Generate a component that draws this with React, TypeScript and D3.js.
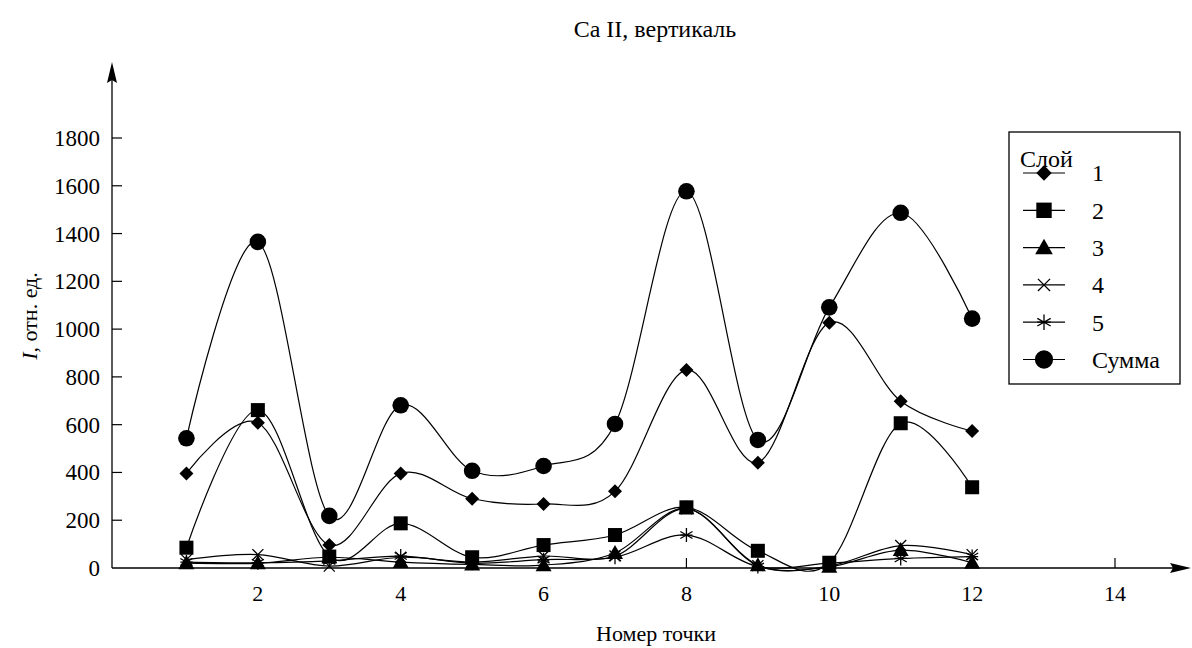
import React, { useEffect, useRef } from 'react';
import * as d3 from 'd3';

// номера точек и значения по слоям (отн. ед.)
const points = [1, 2, 3, 4, 5, 6, 7, 8, 9, 10, 11, 12];
const layer1 = [396, 608, 96, 396, 290, 268, 321, 829, 441, 1027, 698, 573];
const layer2 = [85, 661, 48, 187, 45, 96, 138, 254, 72, 22, 606, 338];
const layer3 = [20, 20, 45, 25, 15, 12, 63, 250, 12, 5, 75, 22];
const layer4 = [35, 56, 8, 45, 25, 50, 50, 248, 10, 8, 94, 56];
const layer5 = [25, 22, 30, 50, 20, 35, 45, 138, 6, 20, 40, 48];
const total = [543, 1365, 218, 681, 407, 427, 603, 1577, 536, 1091, 1487, 1044];

const yTicks = [0, 200, 400, 600, 800, 1000, 1200, 1400, 1600, 1800];
const xTicks = [2, 4, 6, 8, 10, 12, 14];

type MarkerKind = 'diamond' | 'square' | 'triangle' | 'cross' | 'star' | 'circle';

const seriesList: { label: string; values: number[]; marker: MarkerKind }[] = [
  { label: '1', values: layer1, marker: 'diamond' },
  { label: '2', values: layer2, marker: 'square' },
  { label: '3', values: layer3, marker: 'triangle' },
  { label: '4', values: layer4, marker: 'cross' },
  { label: '5', values: layer5, marker: 'star' },
  { label: 'Сумма', values: total, marker: 'circle' },
];

const FONT = "'Liberation Serif', 'DejaVu Serif', serif";

function drawMarker(g: d3.Selection<SVGGElement, unknown, null, undefined>, kind: MarkerKind, k: number) {
  if (kind === 'diamond') {
    const s = 7 * k;
    g.append('path').attr('d', `M0,${-s}L${s},0L0,${s}L${-s},0Z`).attr('fill', '#000');
  } else if (kind === 'square') {
    const s = 7 * k;
    g.append('rect').attr('x', -s).attr('y', -s).attr('width', 2 * s).attr('height', 2 * s).attr('fill', '#000');
  } else if (kind === 'triangle') {
    const s = 8 * k;
    g.append('path').attr('d', `M0,${-s}L${s},${s * 0.75}L${-s},${s * 0.75}Z`).attr('fill', '#000');
  } else if (kind === 'cross') {
    const s = 5.5 * k;
    g.append('path').attr('d', `M${-s},${-s}L${s},${s}M${-s},${s}L${s},${-s}`)
      .attr('stroke', '#000').attr('stroke-width', 1.3).attr('fill', 'none');
  } else if (kind === 'star') {
    const s = 7 * k;
    const d = d3.range(3).map(i => {
      const a = (Math.PI / 3) * i + Math.PI / 2;
      return `M${-s * Math.cos(a)},${-s * Math.sin(a)}L${s * Math.cos(a)},${s * Math.sin(a)}`;
    }).join('') + `M${-s * 0.87},0L${s * 0.87},0`;
    g.append('path').attr('d', d).attr('stroke', '#000').attr('stroke-width', 1.3).attr('fill', 'none');
  } else {
    g.append('circle').attr('r', 8.3 * k).attr('fill', '#000');
  }
}

export default function App() {
  const svgRef = useRef<SVGSVGElement>(null);

  useEffect(() => {
    if (!svgRef.current) return;
    const svg = d3.select(svgRef.current);
    svg.selectAll('*').remove();

    const x = d3.scaleLinear().domain([0, 14]).range([115, 1115]);
    const y = d3.scaleLinear().domain([0, 1800]).range([568, 138]);
    const axisX = 112;

    const txt = (sel: d3.Selection<SVGTextElement, unknown, null, undefined>, size: number) =>
      sel.style('font-family', FONT).style('font-size', `${size}px`);

    // title
    txt(svg.append('text').attr('x', 655).attr('y', 37).attr('text-anchor', 'middle'), 24)
      .text('Ca II, вертикаль');

    // axes with arrows
    const y0 = y(0);
    svg.append('line').attr('x1', axisX).attr('x2', axisX).attr('y1', y0).attr('y2', 78)
      .attr('stroke', '#000').attr('stroke-width', 1.3);
    svg.append('path').attr('d', `M${axisX},62L${axisX - 5},83L${axisX},80L${axisX + 5},83Z`).attr('fill', '#000');
    svg.append('line').attr('x1', axisX).attr('x2', 1175).attr('y1', y0).attr('y2', y0)
      .attr('stroke', '#000').attr('stroke-width', 1.3);
    svg.append('path').attr('d', `M1191,${y0}L1170,${y0 - 5}L1173,${y0}L1170,${y0 + 5}Z`).attr('fill', '#000');

    const yt = svg.append('g');
    yTicks.forEach(t => {
      if (t > 0) yt.append('line').attr('x1', axisX).attr('x2', axisX + 10).attr('y1', y(t)).attr('y2', y(t))
        .attr('stroke', '#000').attr('stroke-width', 1.2);
      txt(yt.append('text').attr('x', 100).attr('y', y(t)).attr('dy', '0.35em').attr('text-anchor', 'end'), 23)
        .text(t);
    });
    const xt = svg.append('g');
    xTicks.forEach(t => {
      xt.append('line').attr('x1', x(t)).attr('x2', x(t)).attr('y1', y0).attr('y2', y0 - 10)
        .attr('stroke', '#000').attr('stroke-width', 1.2);
      txt(xt.append('text').attr('x', x(t)).attr('y', 601).attr('text-anchor', 'middle'), 22).text(t);
    });

    txt(svg.append('text').attr('x', 656).attr('y', 641).attr('text-anchor', 'middle'), 22)
      .text('Номер точки');

    const yl = txt(svg.append('text').attr('transform', `translate(37,316) rotate(-90)`)
      .attr('text-anchor', 'middle'), 22);
    yl.append('tspan').style('font-style', 'italic').text('I');
    yl.append('tspan').text(', отн. ед.');

    // smoothed lines
    const line = d3.line<number>()
      .x((_, i) => x(points[i]))
      .y(d => y(d))
      .curve(d3.curveCardinal.tension(0));

    const lines = svg.append('g');
    seriesList.forEach(s => {
      lines.append('path').attr('d', line(s.values)).attr('fill', 'none')
        .attr('stroke', '#000').attr('stroke-width', 1.2);
    });

    const marks = svg.append('g');
    seriesList.forEach(s => {
      s.values.forEach((v, i) => {
        const g = marks.append('g').attr('transform', `translate(${x(points[i])},${y(v)})`);
        drawMarker(g, s.marker, 1);
      });
    });

    // legend
    const lg = svg.append('g');
    lg.append('rect').attr('x', 1009).attr('y', 132).attr('width', 171).attr('height', 252)
      .attr('fill', '#fff').attr('stroke', '#000').attr('stroke-width', 1.3);
    txt(lg.append('text').attr('x', 1020).attr('y', 167), 24).text('Слой');
    seriesList.forEach((s, i) => {
      const cy = 173 + i * 37.3;
      lg.append('line').attr('x1', 1023).attr('x2', 1065).attr('y1', cy).attr('y2', cy)
        .attr('stroke', '#000').attr('stroke-width', 1.2);
      const g = lg.append('g').attr('transform', `translate(1044,${cy})`);
      drawMarker(g, s.marker, 1.1);
      txt(lg.append('text').attr('x', 1092).attr('y', cy).attr('dy', '0.35em'), 24).text(s.label);
    });
  }, []);

  return (
    <svg
      ref={svgRef}
      width={1192}
      height={648}
      style={{ position: 'fixed', left: 0, top: 0, display: 'block', background: '#fff' }}
    />
  );
}
